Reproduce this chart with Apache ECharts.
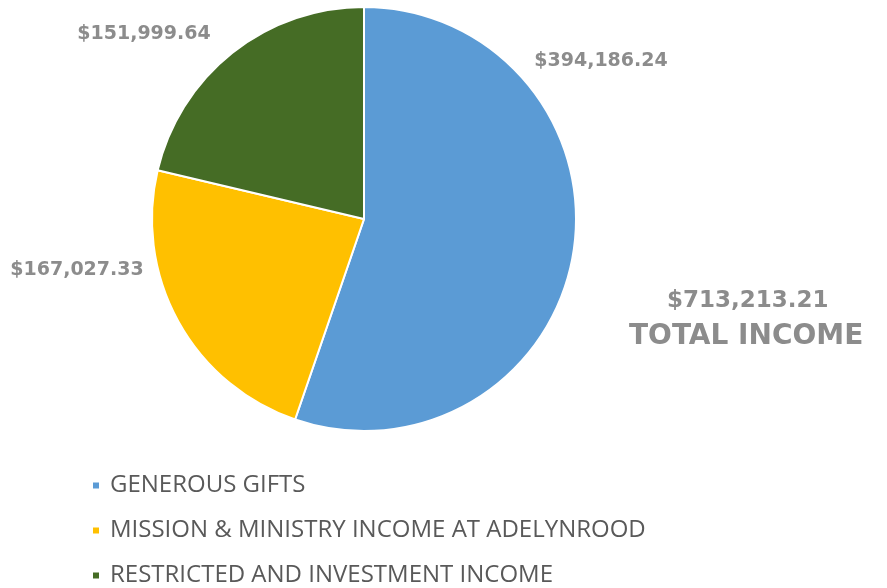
<!DOCTYPE html>
<html>
<head>
<meta charset="utf-8">
<script src="https://cdn.jsdelivr.net/npm/echarts@6/dist/echarts.min.js"></script>
<style>html,body{margin:0;padding:0;background:#fff;}#c{width:887px;height:588px;}</style>
</head>
<body>
<div id="c"></div>
<script>
const categories = ['GENEROUS GIFTS', 'MISSION & MINISTRY INCOME AT ADELYNROOD', 'RESTRICTED AND INVESTMENT INCOME'];
const values = [394186.24, 167027.33, 151999.64];
const totalValue = 713213.21;
const colors = ['#5B9BD5', '#FFC000', '#456C25'];
const labelSpots = [[601, 61], [77, 270], [144, 34]];

function fmt(v) {
  return '$' + v.toLocaleString('en-US', {minimumFractionDigits: 2, maximumFractionDigits: 2});
}

const chart = echarts.init(document.getElementById('c'), null, {renderer: 'canvas'});
chart.setOption({
  animation: false,
  color: colors,
  legend: {
    orient: 'vertical',
    left: 86,
    top: 468,
    height: 130,
    icon: 'rect',
    itemWidth: 8,
    itemHeight: 8,
    itemGap: 20,
    textStyle: {
      fontFamily: 'Open Sans',
      fontSize: 24,
      lineHeight: 25,
      color: '#595959',
      padding: [0, 0, 0, 5]
    },
    data: categories
  },
  graphic: [
    {type: 'text', left: 667, top: 290, style: {text: fmt(totalValue), font: 'bold 23px "DejaVu Sans"', fill: '#8C8C8C'}},
    {type: 'text', left: 629, top: 323, style: {text: 'TOTAL INCOME', font: 'bold 28px "DejaVu Sans"', fill: '#8C8C8C'}}
  ],
  series: [{
    type: 'pie',
    center: [364, 219],
    radius: 212,
    startAngle: 90,
    clockwise: true,
    silent: true,
    itemStyle: {borderColor: '#fff', borderWidth: 2},
    label: {
      show: true,
      position: 'outside',
      overflow: 'none',
      formatter: p => fmt(p.value),
      fontFamily: 'DejaVu Sans',
      fontWeight: 'bold',
      fontSize: 19,
      color: '#8C8C8C'
    },
    labelLine: {show: false},
    labelLayout: function (params) {
      const s = labelSpots[params.dataIndex];
      return {x: s[0], y: s[1], align: 'center', verticalAlign: 'middle'};
    },
    data: categories.map((n, i) => ({name: n, value: values[i]}))
  }]
});
</script>
</body>
</html>
